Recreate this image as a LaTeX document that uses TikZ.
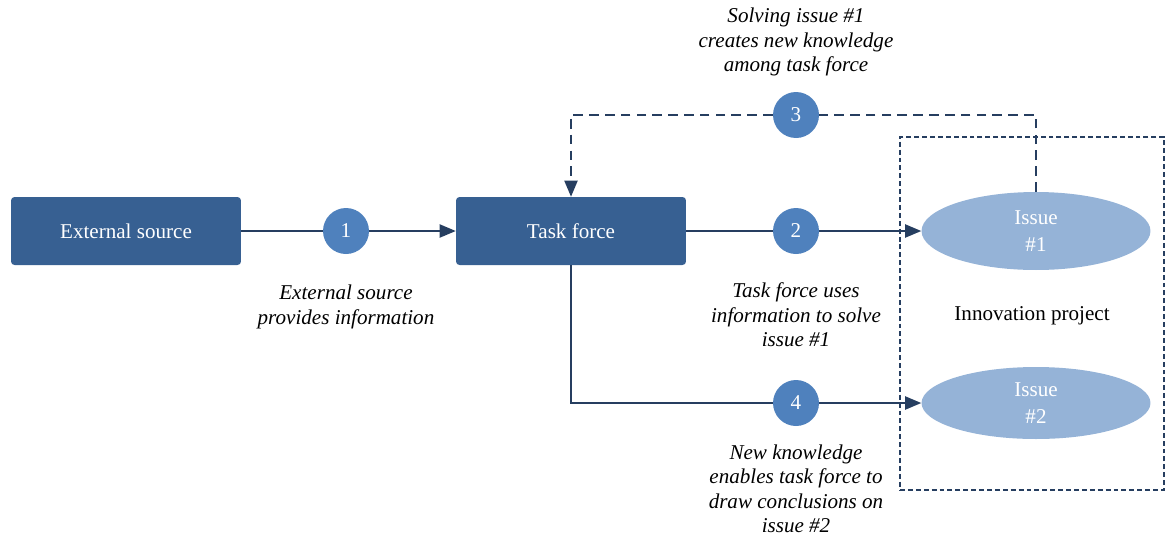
\documentclass[tikz,border=0pt]{standalone}
\usepackage{fontspec}
\setmainfont{Liberation Serif}
\usepackage{xcolor}
\usetikzlibrary{arrows,shapes,positioning}

\definecolor{boxblue}{RGB}{55,96,146}
\definecolor{stepblue}{RGB}{79,129,189}
\definecolor{issueblue}{RGB}{149,179,215}
\definecolor{lineblue}{RGB}{38,62,96}

\begin{document}
\begin{tikzpicture}[x=0.02cm,y=-0.02cm,
    font=\fontsize{12}{13.9}\selectfont,
    actor/.style={rectangle,rounded corners=2pt,fill=boxblue,text=white,
        minimum width=4.6cm,minimum height=1.36cm},
    stepnum/.style={circle,fill=stepblue,text=white,minimum size=0.92cm,inner sep=0pt},
    issue/.style={ellipse,fill=issueblue,text=white,align=center,
        font=\fontsize{12}{15}\selectfont,
        minimum width=4.58cm,minimum height=1.56cm,inner sep=0pt},
    note/.style={align=center,font=\fontsize{12}{13.9}\selectfont\itshape},
    flow/.style={draw=lineblue,line width=1.1pt},
    loop/.style={flow,dash pattern=on 5.5pt off 3.5pt},
    projectbox/.style={draw=lineblue,line width=0.9pt,dash pattern=on 2.8pt off 1.7pt,
        minimum width=5.28cm,minimum height=7.06cm}
    ]
    \useasboundingbox (0,0) rectangle (1165,538);

    % main blocks
    \node[actor] (source) at (126,231) {External source};
    \node[actor] (task) at (571,231) {Task force};
    \node[projectbox] (project) at (1032,313.5) {};
    \node (projtitle) at (1032,316) {Innovation project};
    \node[issue] (issue1) at (1036,231) {Issue\\\#1};
    \node[issue,minimum height=1.44cm] (issue2) at (1036,403) {Issue\\\#2};

    % numbered steps
    \node[stepnum] (s1) at (346,231) {1};
    \node[stepnum] (s2) at (796,231) {2};
    \node[stepnum] (s3) at (796,115) {3};
    \node[stepnum] (s4) at (796,403) {4};

    % notes
    \node[note] (n1) at (346,307) {External source\\provides information};
    \node[note] (n2) at (796,315) {Task force uses\\information to solve\\issue \#1};
    \node[note] (n3) at (796,42) {Solving issue \#1\\creates new knowledge\\among task force};
    \node[note] (n4) at (796,489) {New knowledge\\enables task force to\\draw conclusions on\\issue \#2};

    % connectors
    \draw[flow] (source) -- (s1);
    \draw[flow,-triangle 45] (s1) -- (task);
    \draw[flow] (task) -- (s2);
    \draw[flow,-triangle 45] (s2) -- (issue1);
    \draw[loop] (issue1.north) |- (s3);
    \draw[loop,-triangle 45] (s3) -| (task.north);
    \draw[flow] (task.south) |- (s4);
    \draw[flow,-triangle 45] (s4) -- (issue2);
\end{tikzpicture}
\end{document}
